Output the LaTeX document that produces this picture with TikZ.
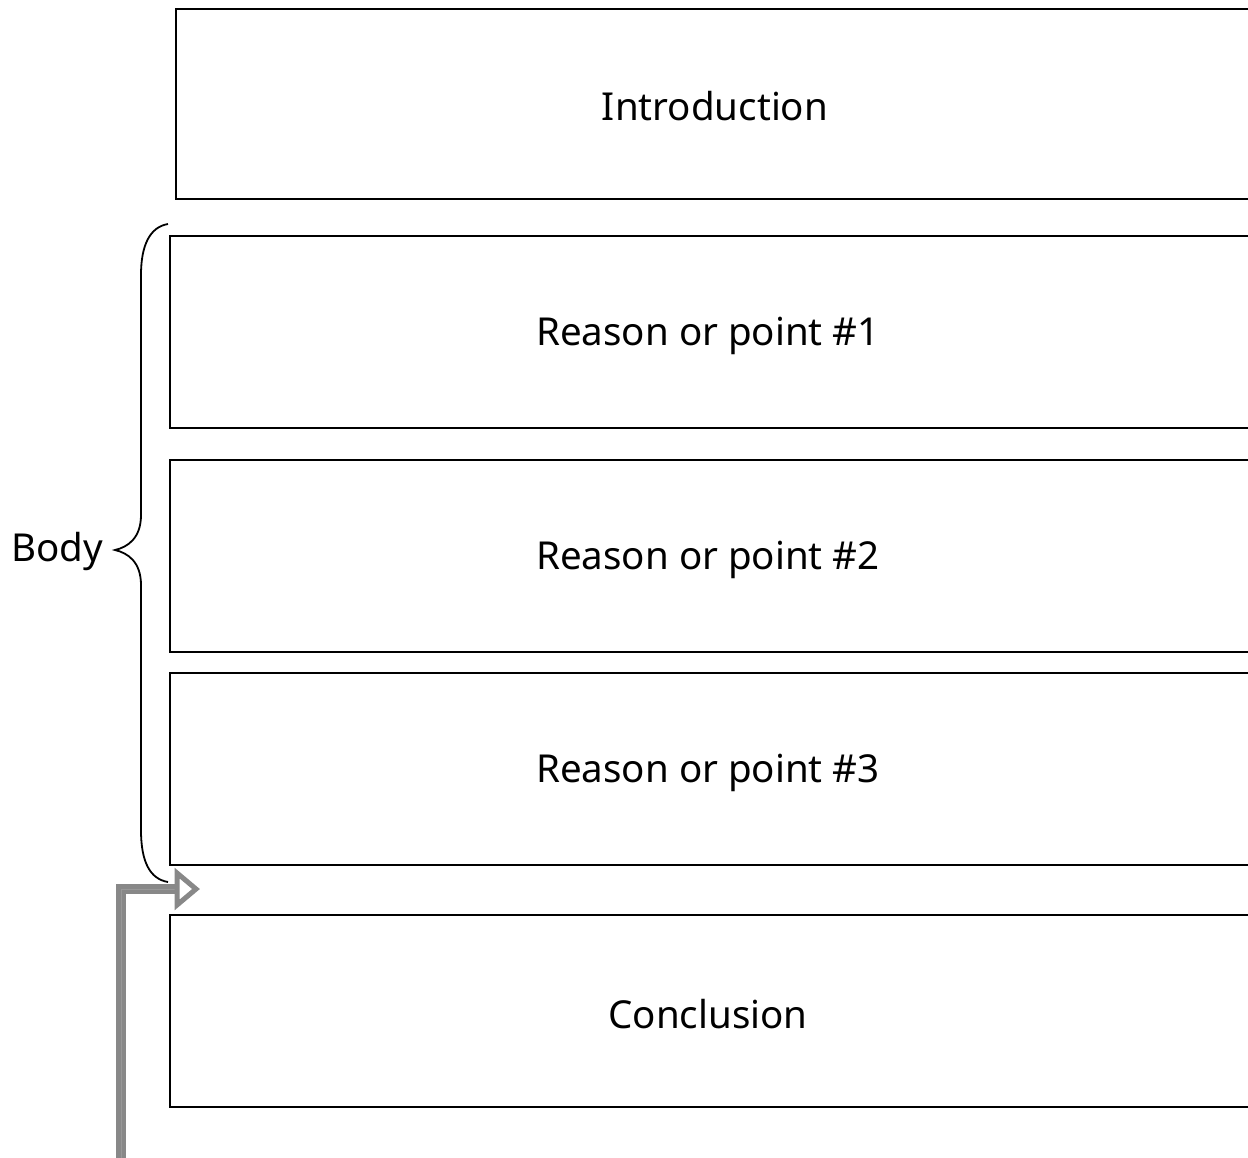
\documentclass[tikz,border=0pt]{standalone}
\usepackage{fontspec}
\setmainfont{Noto Sans}
\definecolor{arrgray}{RGB}{136,136,136}
\definecolor{arrlight}{RGB}{152,152,152}
\begin{document}
\begin{tikzpicture}[x=1pt,y=-1pt,
  box/.style={draw=black,line width=1.8pt,anchor=north west,minimum height=190pt,inner sep=0pt},
  lbl/.style={font=\fontsize{38.5}{44}\selectfont,inner sep=0pt},
  brace/.style={draw=black,line width=1.8pt},
  shaft/.style={draw=arrgray,line width=10pt},
  shaftin/.style={draw=arrlight,line width=1pt}]
\useasboundingbox (0,0) rectangle (1248,1157);
\clip (0,0) rectangle (1248,1157);
\node[box,minimum width=1085pt] (intro) at (175,8) {};
\node[box,minimum width=1091pt,minimum height=192pt] (r1) at (169,235) {};
\node[box,minimum width=1091pt,minimum height=192pt] (r2) at (169,459) {};
\node[box,minimum width=1091pt,minimum height=192pt] (r3) at (169,672) {};
\node[box,minimum width=1091pt,minimum height=192pt] (conc) at (169,914) {};
\node[lbl] (tintro) at (715,106) {Introduction};
\node[lbl] (tr1) at (708,336) {Reason or point \#1};
\node[lbl] (tr2) at (708,560) {Reason or point \#2};
\node[lbl] (tr3) at (708,773) {Reason or point \#3};
\node[lbl] (tconc) at (708,1014) {Conclusion};
\node[lbl] (body) at (57,551) {Body};
\coordinate (btop) at (168,224);
\coordinate (bbot) at (168,882);
\coordinate (btip) at (115,550);
\path[brace] (btop) .. controls (150,227) and (141,245) .. (141,275) -- (141,515)
  .. controls (141,538) and (128,547) .. (btip)
  .. controls (128,553) and (141,562) .. (141,585) -- (141,830)
  .. controls (141,862) and (150,879) .. (bbot);
\coordinate (astart) at (121,1160);
\coordinate (abend) at (121,889);
\coordinate (atip) at (196,889);
\path[shaft] (astart) -- (abend) -- (176,889);
\path[shaftin] (astart) -- (abend) -- (176,889);
\path[draw=arrgray,line width=5pt,fill=white,line join=miter] (177,873) -- (atip) -- (177,905) -- cycle;
\end{tikzpicture}
\end{document}
